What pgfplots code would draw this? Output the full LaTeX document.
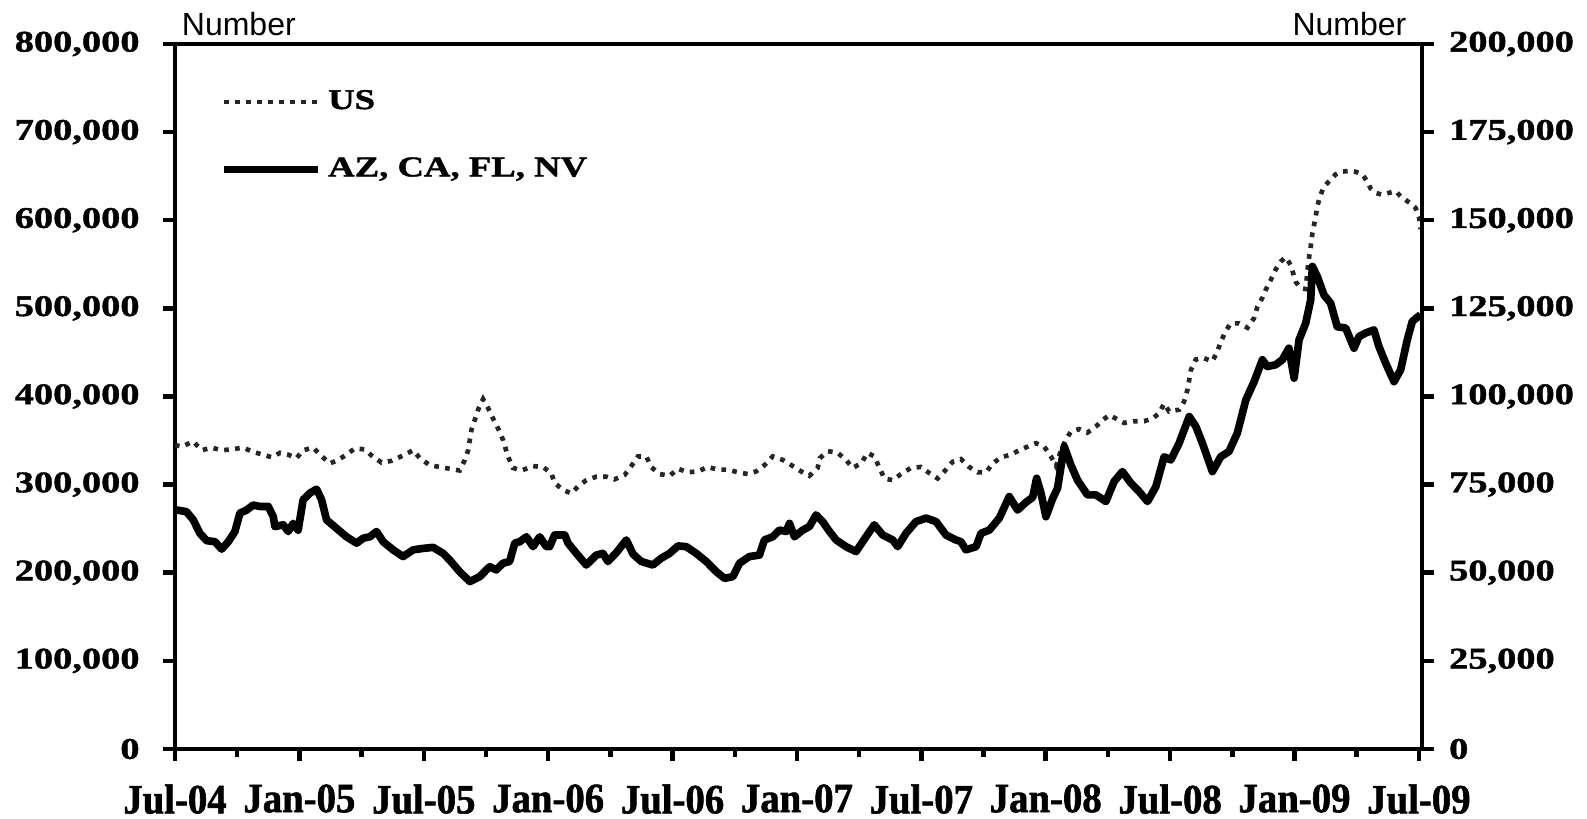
\documentclass[border=0pt]{standalone}
\usepackage{pgfplots}
\usepackage{pgfplotstable}
\pgfplotsset{compat=1.18}
\usepackage{fontspec}
\newfontfamily\ylab[FakeStretch=1.28,FakeBold=1.4]{Liberation Serif Bold}
\newfontfamily\xlab[FakeStretch=0.93,FakeBold=1.4]{Liberation Serif Bold}
\newfontfamily\numf{Liberation Sans}

\pgfplotstableread{
m v
0.00 345000
0.32 343000
0.88 349000
1.29 339000
1.77 342000
2.25 339000
2.73 340000
3.29 342000
3.77 337000
4.26 334000
4.66 331000
5.06 336000
5.46 334000
5.86 330000
6.18 339000
6.67 342000
6.99 334000
7.47 324000
7.87 328000
8.27 334000
8.67 341000
9.16 340000
9.48 333000
9.96 325000
10.44 327000
11.00 333000
11.49 339000
11.81 330000
12.29 322000
12.77 320000
13.25 318000
13.73 316000
13.98 328000
14.14 339000
14.30 362000
14.62 385000
14.86 397000
15.10 387000
15.34 375000
15.58 364000
15.82 351000
16.06 332000
16.30 319000
16.71 316000
17.27 321000
17.75 320000
18.15 313000
18.31 302000
18.71 294000
19.12 290000
19.44 298000
19.84 305000
20.32 309000
20.80 309000
21.20 306000
21.69 311000
22.01 321000
22.33 332000
22.73 332000
22.97 320000
23.37 312000
23.86 310000
24.26 318000
24.74 314000
25.22 315000
25.70 320000
26.18 317000
26.67 317000
27.15 314000
27.63 312000
28.03 315000
28.43 322000
28.83 332000
29.32 328000
29.80 321000
30.20 315000
30.60 310000
31.00 319000
31.10 330000
31.49 338000
31.97 336000
32.37 328000
32.69 319000
33.09 324000
33.41 336000
33.73 332000
33.98 319000
34.22 307000
34.62 305000
35.02 312000
35.50 319000
35.98 320000
36.39 313000
36.79 307000
37.11 315000
37.51 326000
37.91 329000
38.31 320000
38.71 314000
39.12 314000
39.44 324000
39.84 331000
40.32 334000
40.72 339000
41.12 343000
41.53 347000
41.93 343000
42.25 332000
42.50 321000
42.73 339000
42.97 351000
43.21 360000
43.61 363000
44.01 359000
44.42 366000
44.74 373000
45.06 379000
45.46 374000
45.78 370000
46.27 372000
46.75 372000
47.15 375000
47.47 381000
47.71 392000
47.95 383000
48.43 385000
48.67 394000
48.84 408000
48.92 419000
49.00 430000
49.24 442000
49.56 444000
50.04 440000
50.28 451000
50.44 462000
50.68 474000
50.92 483000
51.33 483000
51.73 478000
52.05 489000
52.21 502000
52.45 512000
52.61 521000
52.85 532000
53.09 544000
53.33 553000
53.58 558000
53.82 549000
54.06 530000
54.30 523000
54.54 522000
54.66 551000
54.78 570000
54.86 585000
55.02 604000
55.10 616000
55.26 629000
55.42 638000
55.66 644000
55.98 652000
56.22 655000
56.63 656000
56.95 655000
57.27 652000
57.51 644000
57.67 636000
57.91 631000
58.23 629000
58.55 631000
58.88 633000
59.12 627000
59.36 623000
59.60 619000
59.84 614000
60.00 604000
60.08 590000
}\usdata

\pgfplotstableread{
m v
0.00 67500
0.08 67800
0.56 67300
0.88 65000
1.20 61200
1.53 59100
1.93 58800
2.25 56700
2.57 58800
2.89 61700
3.13 66900
3.46 67800
3.77 69200
4.10 68800
4.50 68800
4.74 65900
4.82 63100
5.22 63600
5.46 61700
5.70 64000
5.94 62100
6.18 70700
6.51 72600
6.83 73700
7.07 70700
7.31 65000
7.79 62600
8.27 60200
8.76 58400
9.08 59800
9.40 60200
9.72 61700
10.04 58800
10.52 56500
11.00 54600
11.49 56500
11.97 56900
12.45 57200
12.93 55500
13.25 53600
13.73 50300
14.22 47500
14.70 48900
15.02 50800
15.18 51700
15.50 50800
15.82 52700
16.14 53200
16.39 58400
16.63 58800
16.95 60200
17.27 57400
17.43 58800
17.59 60200
17.91 57400
18.07 57400
18.31 60700
18.80 60700
18.96 58400
19.36 55500
19.84 52200
20.32 55000
20.64 55500
20.88 53200
21.29 55700
21.77 59300
22.09 55300
22.49 53200
23.05 52200
23.45 54100
23.86 55500
24.26 57600
24.66 57400
25.14 55500
25.62 53200
26.11 50300
26.51 48400
26.91 48900
27.23 52700
27.71 54600
28.19 55000
28.43 59300
28.83 60200
29.16 62100
29.48 61700
29.64 64000
29.88 60200
30.28 62100
30.60 63100
30.92 66400
31.24 64500
31.57 61700
31.89 59300
32.37 57400
32.85 56000
33.33 60200
33.73 63600
34.14 60700
34.62 59300
34.86 57400
35.26 61200
35.74 64500
36.23 65500
36.71 64500
37.19 60700
37.67 59300
37.91 58800
38.15 56500
38.64 57400
38.88 61200
39.28 62100
39.76 65500
40.24 71600
40.64 67800
41.05 70000
41.37 71400
41.56 76800
41.77 72600
42.01 65900
42.33 71000
42.57 74000
42.89 85800
43.21 80600
43.53 76300
44.01 72100
44.42 72100
44.90 70200
45.30 75900
45.70 78700
46.11 75400
46.51 73000
46.91 70200
47.31 74400
47.71 82900
48.03 82000
48.43 86700
48.92 94300
49.24 91500
49.56 86700
50.04 78700
50.44 82900
50.84 84400
51.24 89600
51.65 99000
52.05 104200
52.45 110400
52.69 108500
53.09 109000
53.41 110400
53.73 113700
53.98 105200
54.22 116100
54.54 120800
54.78 127400
54.86 136900
55.10 134000
55.42 128800
55.74 126500
56.06 119800
56.47 119400
56.87 113700
57.11 117000
57.43 118000
57.83 118900
58.07 114200
58.40 109400
58.80 104200
59.12 107600
59.44 116100
59.68 121300
60.08 123200
}\stdata

\pgfplotsset{
  base/.style={
    scale only axis, width=374.1pt, height=211.5pt,
    at={(0,0)}, anchor=south west,
    xmin=0, xmax=60.15, ymin=0,
    tick align=outside,
    axis line style={line width=1.35pt},
    major tick length=3.6pt, minor tick length=2.4pt,
    every tick/.style={black, line width=1.35pt},
    scaled y ticks=false,
    clip mode=individual,
  },
  usstyle/.style={black!85, line width=1.4pt, dash pattern=on 1.4pt off 1.9pt, line cap=butt},
  ststyle/.style={black, line width=2.3pt, line join=round},
}

\begin{document}
\begin{tikzpicture}
\begin{axis}[base,
  ymax=800000,
  xtick={0,6,...,60}, minor xtick={3,9,...,57},
  xticklabels={Jul-04,Jan-05,Jul-05,Jan-06,Jul-06,Jan-07,Jul-07,Jan-08,Jul-08,Jan-09,Jul-09},
  xtick pos=left, ytick pos=left,
  ytick={0,100000,...,800000},
  yticklabels={{0},{100,000},{200,000},{300,000},{400,000},{500,000},{600,000},{700,000},{800,000}},
  yticklabel style={font=\ylab\fontsize{9}{10}\selectfont, xshift=-3.5pt},
  xticklabel style={font=\xlab\fontsize{12.5}{14}\selectfont, yshift=-3.5pt},
  legend image code/.code={\draw[#1] (0pt,0pt) -- (28pt,0pt);},
  legend style={draw=none, fill=none, at={(0.036,0.945)}, anchor=north west,
    inner sep=0pt, row sep=9pt, font=\ylab\fontsize{8.6}{10}\selectfont},
  legend cell align=left,
]
\addplot[usstyle] table[x=m,y=v] {\usdata};
\addlegendentry{US}
\addlegendimage{ststyle}
\addlegendentry{AZ, CA, FL, NV}
\node[anchor=base west, inner sep=0pt, font=\numf\fontsize{9.6}{11}\selectfont] at (rel axis cs:0.005,1) [yshift=2.6pt] {Number};
\node[anchor=base east, inner sep=0pt, font=\numf\fontsize{9.6}{11}\selectfont] at (rel axis cs:0.988,1) [yshift=2.6pt] {Number};
\end{axis}
\begin{axis}[base,
  ymax=200000,
  axis y line*=right, axis x line=none,
  ytick={0,25000,...,200000},
  yticklabels={{0},{25,000},{50,000},{75,000},{100,000},{125,000},{150,000},{175,000},{200,000}},
  yticklabel style={font=\ylab\fontsize{9}{10}\selectfont, xshift=1pt},
]
\addplot[ststyle] table[x=m,y=v] {\stdata};
\end{axis}
\pgfresetboundingbox
\path[use as bounding box] (-52.5pt,-21pt) rectangle (423.6pt,224.7pt);
\end{tikzpicture}
\end{document}
